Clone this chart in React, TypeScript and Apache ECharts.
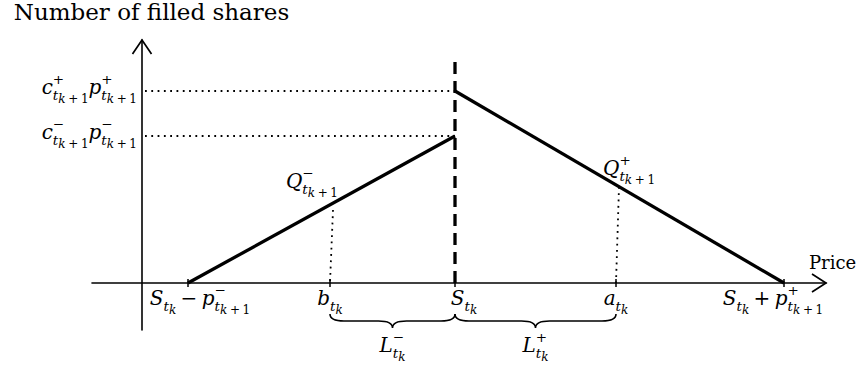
import React, { useEffect, useRef } from 'react';
import * as echarts from 'echarts';

// ---------- data (price units / share units) ----------
const xRange = [-5, 68.4];
const yRange = [-4.7, 24.3];

// price marks on the horizontal axis
const tickLabels = ['S_{t_k}−p^−_{t_{k+1}}', 'b_{t_k}', 'S_{t_k}', 'a_{t_k}', 'S_{t_k}+p^+_{t_{k+1}}'];
const tickValues = [4.6, 18.8, 31.3, 47.4, 64.2];

// filled-share levels on the vertical axis
const levelLabels = ['c^+_{t_{k+1}}p^+_{t_{k+1}}', 'c^−_{t_{k+1}}p^−_{t_{k+1}}'];
const levelValues = [19.2, 14.7];

// fill curves
const bidCurve = [[4.6, 0], [31.3, 14.7]];
const askCurve = [[31.3, 19.2], [64.2, 0]];
const midPriceLine = [[31.3, 0], [31.3, 22.3]];

// quote points on the curves
const quoteLabels = ['Q^−_{t_{k+1}}', 'Q^+_{t_{k+1}}'];
const quotePoints = [[18.8, 7.3], [47.4, 9.6]];

// spreads shown with braces
const braceLabels = ['L^−_{t_k}', 'L^+_{t_k}'];
const braceSpans = [[18.8, 31.3], [31.3, 47.4]];
const braceLevel = -3.8;

const axisNames = ['Price', 'Number of filled shares'];

// ---------- styling ----------
const TEXT_FONT = '"DejaVu Serif", serif';
const MATH_FONT = '"DejaVu Serif", serif';
const SIZES = [20, 13.5, 12];
const SUP = [10.5, 6, 4.5];
const SUB = [5.5, 4, 3];

type Glyph = { text: string; x: number; w: number; base: number; size: number; italic: boolean };

let measureCtx: CanvasRenderingContext2D | null = null;
function measure(t: string, size: number, italic: boolean): number {
  if (!measureCtx) measureCtx = document.createElement('canvas').getContext('2d');
  measureCtx!.font = `${italic ? 'italic ' : ''}${size}px ${MATH_FONT}`;
  return measureCtx!.measureText(t).width;
}

function readGroup(s: string, i: number): [string, number] {
  if (s[i] === '{') {
    let depth = 1;
    let j = i + 1;
    while (j < s.length && depth > 0) {
      if (s[j] === '{') depth++;
      else if (s[j] === '}') depth--;
      j++;
    }
    return [s.slice(i + 1, j - 1), j];
  }
  return [s[i], i + 1];
}

function layoutMath(s: string, lvl: number, x0: number, base: number, out: Glyph[]): number {
  const L = Math.min(lvl, 2);
  const size = SIZES[L];
  let x = x0;
  let baseEnd = x0;
  let i = 0;
  let hasAtom = false;
  while (i < s.length) {
    const c = s[i];
    if (c === '^' || c === '_') {
      const [g, j] = readGroup(s, i + 1);
      i = j;
      const y = c === '^' ? base - SUP[L] : base + SUB[L];
      const end = layoutMath(g, lvl + 1, baseEnd, y, out);
      x = Math.max(x, end);
      continue;
    }
    const binary = (c === '+' || c === '−') && hasAtom;
    if (binary) x += size * 0.22;
    const italic = /[A-Za-z]/.test(c);
    const w = measure(c, size, italic);
    const prev = out[out.length - 1];
    if (!binary && prev && prev.base === base && prev.size === size && prev.italic === italic && Math.abs(prev.x + prev.w - x) < 0.01) {
      prev.text += c;
      prev.w += w;
    } else {
      out.push({ text: c, x, w, base, size, italic });
    }
    x += w;
    if (binary) x += size * 0.22;
    baseEnd = x;
    hasAtom = true;
    i++;
  }
  return x;
}

type LabelSpec = { tex: string; x: number; y: number; anchor: 'left' | 'center' | 'right'; dx: number; dy: number };

const tickDx = [12, 0, 9, 0, -11];
const labelSpecs: LabelSpec[] = [
  ...tickLabels.map((t, i) => ({ tex: t, x: tickValues[i], y: 0, anchor: 'center' as const, dx: tickDx[i], dy: 22 })),
  ...levelLabels.map((t, i) => ({ tex: t, x: 0, y: levelValues[i], anchor: 'right' as const, dx: -5, dy: 3 })),
  { tex: quoteLabels[0], x: quotePoints[0][0], y: quotePoints[0][1], anchor: 'right', dx: 8, dy: -22 },
  { tex: quoteLabels[1], x: quotePoints[1][0], y: quotePoints[1][1], anchor: 'left', dx: -13, dy: -12 },
  ...braceLabels.map((t, i) => ({ tex: t, x: (braceSpans[i][0] + braceSpans[i][1]) / 2, y: braceLevel, anchor: 'center' as const, dx: 0, dy: 31 })),
];

const dotted = { stroke: '#000', lineWidth: 1.8, lineDash: [1.8, 4.5], lineCap: 'butt' as const };

export default function App() {
  const ref = useRef<HTMLDivElement>(null);
  useEffect(() => {
    if (!ref.current) return;
    const chart = echarts.init(ref.current, null, { renderer: 'svg' });

    const guideData = [
      ...levelValues.map((v) => [0, v, tickValues[2], v]),
      ...quotePoints.map((p) => [p[0], p[1], p[0], 0]),
    ];

    const option: any = {
      animation: false,
      backgroundColor: '#fff',
      grid: { left: 92, right: 35, top: 40, bottom: 41, outerBoundsMode: 'none', containLabel: false },
      xAxis: {
        type: 'value',
        min: xRange[0],
        max: xRange[1],
        axisLine: { show: true, onZero: true, lineStyle: { color: '#000', width: 1.6 } },
        axisTick: { show: false },
        axisLabel: { show: false },
        splitLine: { show: false },
        name: axisNames[0],
        nameLocation: 'end',
        nameGap: -17,
        nameTextStyle: { fontFamily: TEXT_FONT, fontSize: 18, color: '#000', align: 'left', verticalAlign: 'bottom', lineHeight: 18, padding: [0, 0, 12, 0] },
      },
      yAxis: {
        type: 'value',
        min: yRange[0],
        max: yRange[1],
        axisLine: { show: true, onZero: true, lineStyle: { color: '#000', width: 1.6 } },
        axisTick: { show: false },
        axisLabel: { show: false },
        splitLine: { show: false },
        name: axisNames[1],
        nameLocation: 'end',
        nameGap: 16,
        nameTextStyle: { fontFamily: TEXT_FONT, fontSize: 23, color: '#000', lineHeight: 24, padding: [0, 0, 0, 19] },
      },
      series: [
        {
          type: 'line', data: bidCurve, symbol: 'none', silent: true,
          lineStyle: { color: '#000', width: 3.3, cap: 'butt' },
        },
        {
          type: 'line', data: askCurve, symbol: 'none', silent: true,
          lineStyle: { color: '#000', width: 3.3, cap: 'butt' },
        },
        {
          type: 'line', data: midPriceLine, symbol: 'none', silent: true, z: 3,
          lineStyle: { color: '#000', width: 3.3, type: [12, 7], cap: 'butt' },
        },
        {
          type: 'custom', silent: true, data: guideData,
          renderItem: (params: any, api: any) => {
            const a = api.coord([api.value(0), api.value(1)]);
            const b = api.coord([api.value(2), api.value(3)]);
            return { type: 'line', shape: { x1: a[0] + 3, y1: a[1], x2: b[0], y2: b[1] }, style: dotted };
          },
        },
        {
          type: 'custom', silent: true, data: tickValues.map((v) => [v, 0]),
          renderItem: (params: any, api: any) => {
            const p = api.coord([api.value(0), api.value(1)]);
            return { type: 'line', shape: { x1: p[0], y1: p[1] - 4, x2: p[0], y2: p[1] + 4 }, style: { stroke: '#000', lineWidth: 1.5 } };
          },
        },
        {
          type: 'custom', silent: true, data: [[xRange[1], 0, 0], [0, yRange[1], 1]],
          renderItem: (params: any, api: any) => {
            const p = api.coord([api.value(0), api.value(1)]);
            const up = api.value(2) === 1;
            const pts = up
              ? [[p[0] - 9.5, p[1] + 14], [p[0], p[1]], [p[0] + 9.5, p[1] + 14]]
              : [[p[0] - 14, p[1] - 9], [p[0], p[1]], [p[0] - 14, p[1] + 9]];
            return { type: 'polyline', shape: { points: pts }, style: { stroke: '#000', fill: 'none', lineWidth: 1.7, lineJoin: 'miter' } };
          },
        },
        {
          type: 'custom', silent: true, data: braceSpans.map((s) => [s[0], braceLevel, s[1]]),
          renderItem: (params: any, api: any) => {
            const a = api.coord([api.value(0), api.value(1)]);
            const b = api.coord([api.value(2), api.value(1)]);
            const y = a[1];
            const x1 = a[0], x2 = b[0], xm = (x1 + x2) / 2, h = 7;
            const d = `M${x1},${y - h} Q${x1},${y} ${x1 + 2 * h},${y} L${xm - 2 * h},${y} Q${xm},${y} ${xm},${y + h} Q${xm},${y} ${xm + 2 * h},${y} L${x2 - 2 * h},${y} Q${x2},${y} ${x2},${y - h}`;
            return { type: 'path', shape: { pathData: d }, style: { stroke: '#000', fill: 'none', lineWidth: 1.6 } };
          },
        },
        {
          type: 'custom', silent: true, z: 5,
          data: labelSpecs.map((s, i) => [s.x, s.y, i]),
          renderItem: (params: any, api: any) => {
            const spec = labelSpecs[api.value(2)];
            const p = api.coord([api.value(0), api.value(1)]);
            const glyphs: Glyph[] = [];
            const w = layoutMath(spec.tex, 0, 0, 0, glyphs);
            const x0 = spec.anchor === 'right' ? p[0] + spec.dx - w : spec.anchor === 'center' ? p[0] + spec.dx - w / 2 : p[0] + spec.dx;
            const base = p[1] + spec.dy;
            return {
              type: 'group',
              children: glyphs.map((g) => ({
                type: 'text',
                x: x0 + g.x,
                y: base + g.base - 0.34 * g.size,
                style: {
                  text: g.text,
                  fontSize: g.size,
                  fontFamily: MATH_FONT,
                  fontStyle: g.italic ? 'italic' : 'normal',
                  fill: '#000',
                  align: 'left',
                  verticalAlign: 'middle',
                },
              })),
            };
          },
        },
      ],
    };
    chart.setOption(option);
    return () => chart.dispose();
  }, []);
  return <div ref={ref} style={{ position: 'absolute', left: 0, top: 0, width: 861, height: 371, background: '#fff' }} />;
}
